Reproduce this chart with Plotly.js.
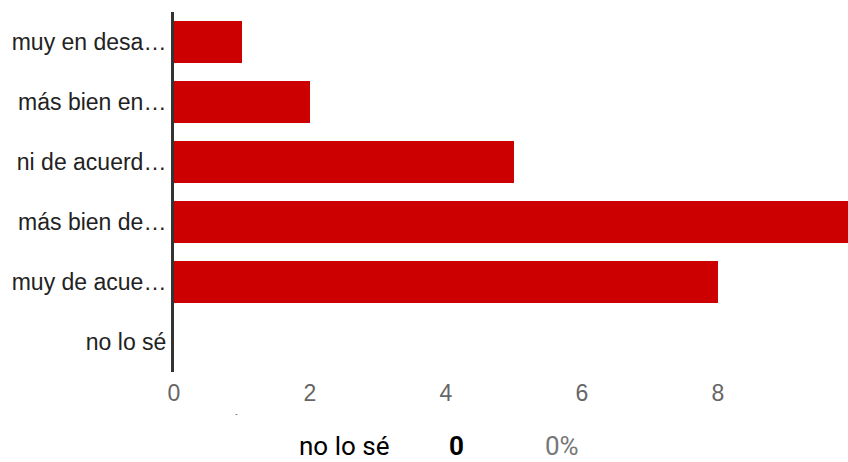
<!DOCTYPE html>
<html>
<head>
<meta charset="utf-8">
<script src="https://cdn.plot.ly/plotly-3.0.1.min.js"></script>
<style>html,body{margin:0;padding:0;background:#fff;}</style>
</head>
<body>
<div id="chart" style="width:848px;height:462px;"></div>
<script>
const categories = ["muy en desa…", "más bien en…", "ni de acuerd…", "más bien de…", "muy de acue…", "no lo sé"];
const counts = [1, 2, 5, 10, 8, 0];
const tickVals = [0, 2, 4, 6, 8];
const tableRow = ["no lo sé", "0", "0%"];

const trace = {
  type: "bar",
  orientation: "h",
  y: categories,
  x: counts,
  width: 0.7,
  marker: {color: "#cc0000"},
  hoverinfo: "none"
};

const rowFont = {family: "Roboto, sans-serif", size: 26};

const layout = {
  width: 848,
  height: 462,
  margin: {l: 174, r: 0, t: 12, b: 90, pad: 0},
  paper_bgcolor: "#ffffff",
  plot_bgcolor: "#ffffff",
  showlegend: false,
  font: {family: "Liberation Sans, Arial, sans-serif"},
  xaxis: {
    range: [0, 9.912],
    tickvals: tickVals,
    ticktext: tickVals.map(String),
    showgrid: false,
    zeroline: false,
    showline: false,
    ticks: "",
    tickfont: {size: 23, color: "#666666"},
    ticklabelstandoff: 5,
    fixedrange: true
  },
  yaxis: {
    type: "category",
    autorange: "reversed",
    showgrid: false,
    zeroline: false,
    showline: true,
    linecolor: "#333333",
    linewidth: 3,
    ticks: "",
    tickfont: {size: 23, color: "#222222"},
    ticklabelstandoff: 0,
    fixedrange: true
  },
  annotations: [
    {xref: "paper", yref: "paper", x: (344 - 174) / 674, y: -0.25, xanchor: "center", yanchor: "bottom", borderpad: 0,
     text: tableRow[0], showarrow: false, font: Object.assign({color: "#000000"}, rowFont)},
    {xref: "paper", yref: "paper", x: (456 - 174) / 674, y: -0.25, xanchor: "center", yanchor: "bottom", borderpad: 0,
     text: "<b>" + tableRow[1] + "</b>", showarrow: false, font: Object.assign({color: "#000000"}, rowFont)},
    {xref: "paper", yref: "paper", x: (562 - 174) / 674, y: -0.25, xanchor: "center", yanchor: "bottom", borderpad: 0,
     text: tableRow[2], showarrow: false, font: Object.assign({color: "#777777"}, rowFont)},
    {xref: "paper", yref: "paper", x: (236 - 174) / 674, y: -0.115, xanchor: "center", yanchor: "middle",
     text: "-", showarrow: false, font: {size: 8, color: "#333333"}}
  ]
};

Plotly.newPlot("chart", [trace], layout, {displayModeBar: false, staticPlot: true});
</script>
</body>
</html>
